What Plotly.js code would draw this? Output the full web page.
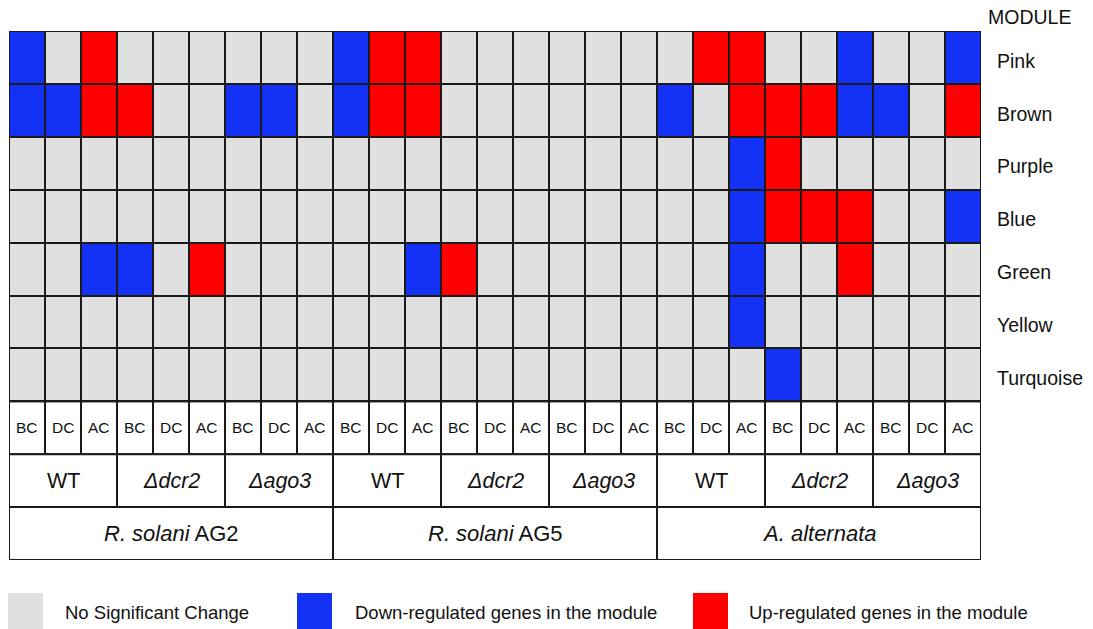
<!DOCTYPE html>
<html>
<head>
<meta charset="utf-8">
<script src="https://cdn.plot.ly/plotly-3.0.1.min.js"></script>
<style>
  html, body { margin: 0; padding: 0; background: #ffffff; }
  #chart { width: 1093px; height: 629px; }
</style>
</head>
<body>
<div id="chart"></div>
<script>
// ---- data ----
const modules = ['Pink', 'Brown', 'Purple', 'Blue', 'Green', 'Yellow', 'Turquoise'];
const stages = ['BC', 'DC', 'AC'];
const strains = ['WT', '<i>Δdcr2</i>', '<i>Δago3</i>'];
const species = ['<i>R. solani</i> AG2', '<i>R. solani</i> AG5', '<i>A. alternata</i>'];
// -1 = down-regulated, 0 = no significant change, 1 = up-regulated (27 columns)
const pink      = [-1, 0, 1,  0, 0, 0,  0, 0, 0,  -1, 1, 1,  0, 0, 0,  0, 0, 0,  0, 1, 1,  0, 0,-1,  0, 0,-1];
const brown     = [-1,-1, 1,  1, 0, 0, -1,-1, 0,  -1, 1, 1,  0, 0, 0,  0, 0, 0, -1, 0, 1,  1, 1,-1, -1, 0, 1];
const purple    = [ 0, 0, 0,  0, 0, 0,  0, 0, 0,   0, 0, 0,  0, 0, 0,  0, 0, 0,  0, 0,-1,  1, 0, 0,  0, 0, 0];
const blue      = [ 0, 0, 0,  0, 0, 0,  0, 0, 0,   0, 0, 0,  0, 0, 0,  0, 0, 0,  0, 0,-1,  1, 1, 1,  0, 0,-1];
const green     = [ 0, 0,-1, -1, 0, 1,  0, 0, 0,   0, 0,-1,  1, 0, 0,  0, 0, 0,  0, 0,-1,  0, 0, 1,  0, 0, 0];
const yellow    = [ 0, 0, 0,  0, 0, 0,  0, 0, 0,   0, 0, 0,  0, 0, 0,  0, 0, 0,  0, 0,-1,  0, 0, 0,  0, 0, 0];
const turquoise = [ 0, 0, 0,  0, 0, 0,  0, 0, 0,   0, 0, 0,  0, 0, 0,  0, 0, 0,  0, 0, 0, -1, 0, 0,  0, 0, 0];
const legendLabels = ['No Significant Change', 'Down-regulated genes in the module', 'Up-regulated genes in the module'];
const legendColors = ['#e0e0e0', '#1432f6', '#fe0000'];

// ---- build ----
const FONT = 'Liberation Sans, Arial, Helvetica, sans-serif';
const LINE = '#1a1a1a';
const z = [pink, brown, purple, blue, green, yellow, turquoise];
const nCols = stages.length * strains.length * species.length;
const xIdx = Array.from({length: nCols}, (_, i) => i);
const yIdx = modules.map((_, i) => i);

const heat = {
  type: 'heatmap',
  x: xIdx, y: yIdx, z: z,
  zmin: -1, zmax: 1,
  colorscale: [[0, legendColors[1]], [0.3333, legendColors[1]], [0.3334, legendColors[0]],
               [0.6666, legendColors[0]], [0.6667, legendColors[2]], [1, legendColors[2]]],
  showscale: false, xgap: 2, ygap: 2, hoverinfo: 'skip'
};

const shapes = [];
const annotations = [];
const rowStage = modules.length, rowStrain = modules.length + 1, rowSpecies = modules.length + 2;

// stage header row
for (let c = 0; c < nCols; c++) {
  shapes.push({type: 'rect', xref: 'x', yref: 'y', x0: c - 0.5, x1: c + 0.5, y0: rowStage - 0.5, y1: rowStage + 0.5,
               fillcolor: '#ffffff', line: {color: LINE, width: 2}});
  annotations.push({xref: 'x', yref: 'y', x: c, y: rowStage, text: stages[c % stages.length], showarrow: false,
                    font: {family: FONT, size: 15.5, color: '#111'}});
}
// strain header row
const perStrain = stages.length;
for (let s = 0; s < nCols / perStrain; s++) {
  const x0 = s * perStrain - 0.5, x1 = x0 + perStrain;
  shapes.push({type: 'rect', xref: 'x', yref: 'y', x0: x0, x1: x1, y0: rowStrain - 0.5, y1: rowStrain + 0.5,
               fillcolor: '#ffffff', line: {color: LINE, width: 2}});
  annotations.push({xref: 'x', yref: 'y', x: (x0 + x1) / 2, y: rowStrain, text: strains[s % strains.length], showarrow: false,
                    font: {family: FONT, size: 21.5, color: '#111'}});
}
// species header row
const perSpecies = stages.length * strains.length;
for (let p = 0; p < species.length; p++) {
  const x0 = p * perSpecies - 0.5, x1 = x0 + perSpecies;
  shapes.push({type: 'rect', xref: 'x', yref: 'y', x0: x0, x1: x1, y0: rowSpecies - 0.5, y1: rowSpecies + 0.5,
               fillcolor: '#ffffff', line: {color: LINE, width: 2}});
  annotations.push({xref: 'x', yref: 'y', x: (x0 + x1) / 2, y: rowSpecies, text: species[p], showarrow: false,
                    font: {family: FONT, size: 22, color: '#111'}});
}
// outer border of the module grid
shapes.push({type: 'rect', xref: 'x', yref: 'y', x0: -0.5, x1: nCols - 0.5, y0: -0.5, y1: modules.length - 0.5,
             fillcolor: 'rgba(0,0,0,0)', line: {color: LINE, width: 2}});

// module labels
modules.forEach((m, i) => {
  annotations.push({xref: 'paper', yref: 'y', x: 1.0144, y: i + 0.06, xanchor: 'left', text: m, showarrow: false,
                    font: {family: FONT, size: 19.5, color: '#111'}});
});
annotations.push({xref: 'paper', yref: 'paper', x: 1.005, y: 1.027, xanchor: 'left', yanchor: 'middle',
                  text: 'MODULE', showarrow: false, font: {family: FONT, size: 19.5, color: '#111'}});

// legend (squares + labels)
const W = 972, H = 529;
const sqX = [8, 297, 693], txtX = [63, 353, 747];
legendLabels.forEach((lab, i) => {
  shapes.push({type: 'rect', xref: 'paper', yref: 'paper',
               x0: (sqX[i] - 9) / W, x1: (sqX[i] + 35 - 9) / W, y0: -(593 - 560) / H, y1: -(640 - 560) / H,
               fillcolor: legendColors[i], line: {width: 0}});
  annotations.push({xref: 'paper', yref: 'paper', x: (txtX[i] - 9) / W, y: -(612 - 560) / H,
                    xanchor: 'left', yanchor: 'middle', text: lab, showarrow: false,
                    font: {family: FONT, size: 18.5, color: '#111'}});
});

const layout = {
  width: 1093, height: 629,
  margin: {l: 9, r: 112, t: 31, b: 69, pad: 0},
  paper_bgcolor: '#ffffff', plot_bgcolor: LINE,
  xaxis: {range: [-0.5, nCols - 0.5], showticklabels: false, showgrid: false, zeroline: false, ticks: '', fixedrange: true},
  yaxis: {range: [rowSpecies + 0.5, -0.5], showticklabels: false, showgrid: false, zeroline: false, ticks: '', fixedrange: true},
  shapes: shapes, annotations: annotations, showlegend: false
};

Plotly.newPlot('chart', [heat], layout, {displayModeBar: false, staticPlot: true});
</script>
</body>
</html>
